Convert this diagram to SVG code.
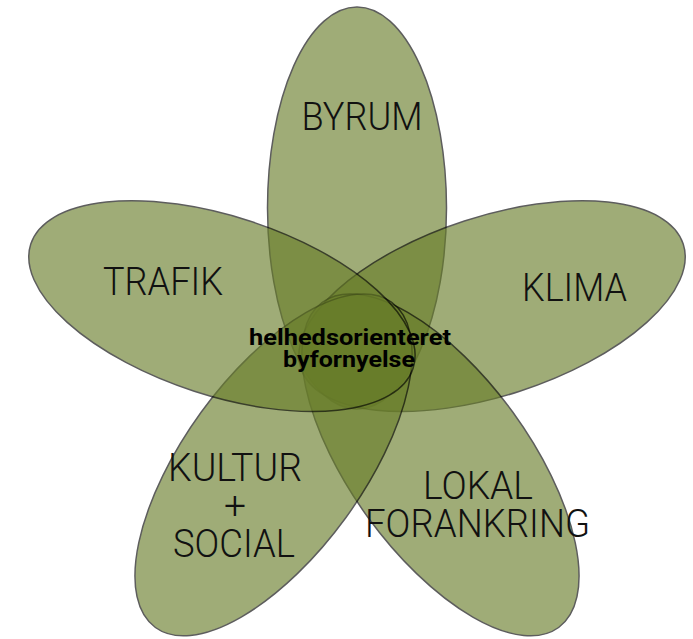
<svg xmlns="http://www.w3.org/2000/svg" width="693" height="639" viewBox="0 0 693 639">
<style>
.petal{fill:rgb(104,125,41);stroke:#000;stroke-width:1.5;opacity:0.63}
.lbl{font-family:Roboto,"Liberation Sans",sans-serif;font-weight:300;font-size:39px;fill:#111;text-anchor:middle}
.ctr{font-family:Roboto,"Liberation Sans",sans-serif;font-weight:700;font-size:22px;fill:#000;text-anchor:middle}
</style>
<rect width="693" height="639" fill="#fff"/>
<g id="petal-byrum"><ellipse class="petal" cx="357" cy="208" rx="89.5" ry="201"/></g>
<g id="petal-klima"><ellipse class="petal" cx="357" cy="208" rx="89.5" ry="201" transform="rotate(72 357 350)"/></g>
<g id="petal-lokal"><ellipse class="petal" cx="357" cy="208" rx="89.5" ry="201" transform="rotate(144 357 350)"/></g>
<g id="petal-kultur"><ellipse class="petal" cx="357" cy="208" rx="89.5" ry="201" transform="rotate(216 357 350)"/></g>
<g id="petal-trafik"><ellipse class="petal" cx="357" cy="208" rx="89.5" ry="201" transform="rotate(288 357 350)"/></g>
<g id="connectors"></g>
<g id="labels">
<text class="lbl" x="362" y="130" textLength="121" lengthAdjust="spacingAndGlyphs">BYRUM</text>
<text class="lbl" x="163" y="295" textLength="120" lengthAdjust="spacingAndGlyphs">TRAFIK</text>
<text class="lbl" x="574.5" y="301" textLength="105" lengthAdjust="spacingAndGlyphs">KLIMA</text>
<text class="lbl" x="235" y="481" textLength="134" lengthAdjust="spacingAndGlyphs">KULTUR</text>
<text class="lbl" x="235" y="519">+</text>
<text class="lbl" x="234" y="557" textLength="122" lengthAdjust="spacingAndGlyphs">SOCIAL</text>
<text class="lbl" x="478" y="499" textLength="110" lengthAdjust="spacingAndGlyphs">LOKAL</text>
<text class="lbl" x="477.5" y="537" textLength="225" lengthAdjust="spacingAndGlyphs">FORANKRING</text>
</g>
<g id="center">
<text class="ctr" x="350" y="345" textLength="202" lengthAdjust="spacingAndGlyphs">helhedsorienteret</text>
<text class="ctr" x="349" y="367" textLength="132" lengthAdjust="spacingAndGlyphs">byfornyelse</text>
</g>
</svg>
